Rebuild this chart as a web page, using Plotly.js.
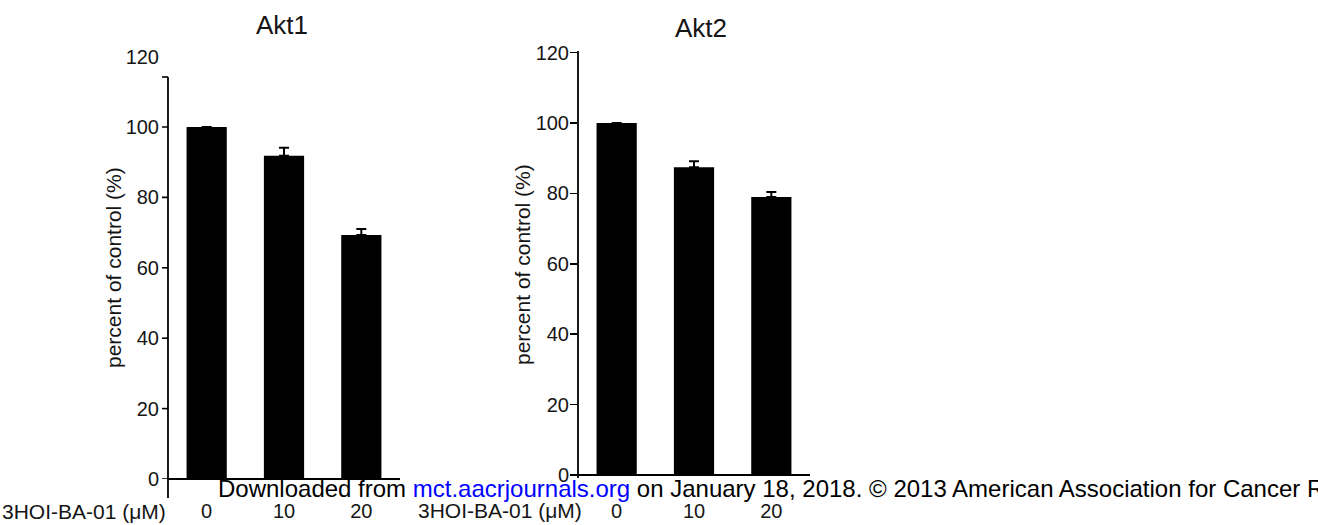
<!DOCTYPE html>
<html>
<head>
<meta charset="utf-8">
<script src="https://cdn.plot.ly/plotly-3.0.1.min.js"></script>
<style>
  html, body { margin: 0; padding: 0; background: #ffffff; }
  #chart { width: 1318px; height: 525px; }
</style>
</head>
<body>
<div id="chart"></div>
<script>
// ---- data ----
const categories = ['0', '10', '20'];
const akt1Values = [100, 91.8, 69.3];
const akt1Errors = [0, 2.3, 1.7];
const akt2Values = [100, 87.4, 79.0];
const akt2Errors = [0, 1.7, 1.4];
const yTicks = [0, 20, 40, 60, 80, 100, 120];
const panelTitles = ['Akt1', 'Akt2'];
const yAxisTitle = 'percent of control (%)';
const doseLabel = '3HOI-BA-01 (\u03bcM)';
const watermarkParts = ['Downloaded from ', 'mct.aacrjournals.org', ' on January 18, 2018. \u00a9 2013 American Association for Cancer Research.'];

// ---- layout helpers (pixel -> paper) ----
const W = 1318, H = 525;
const px = x => x / W;
const py = y => (H - y) / H;
const FONT = 'Liberation Sans, Arial, Helvetica, sans-serif';
const TXT = '#151515';

function barTrace(values, errors, xa, ya) {
  return {
    type: 'bar', x: categories, y: values, xaxis: xa, yaxis: ya,
    width: 0.52,
    marker: { color: '#000000', line: { width: 0 } },
    error_y: { type: 'data', symmetric: false, array: errors, arrayminus: errors.map(() => 0),
               color: '#000000', thickness: 2, width: 5 },
    showlegend: false, hoverinfo: 'x+y'
  };
}

const data = [
  barTrace(akt1Values, akt1Errors, 'x', 'y'),
  barTrace(akt2Values, akt2Errors, 'x2', 'y2')
];

function yAxis(domain, anchor, showTicks, standoff) {
  return {
    domain: domain, anchor: anchor, range: [0, 120], tickvals: yTicks,
    ticks: showTicks ? 'outside' : '', ticklen: 7, tickwidth: 1.6, tickcolor: '#000',
    showline: false, showgrid: false, zeroline: false, fixedrange: true,
    ticklabelstandoff: standoff,
    tickfont: { family: FONT, size: 20, color: TXT }
  };
}
function xAxis(domain, anchor, standoff) {
  return {
    domain: domain, anchor: anchor, type: 'category', range: [-0.5, 2.5],
    ticks: '', showline: false, showgrid: false, zeroline: false, fixedrange: true,
    ticklabelstandoff: standoff,
    tickfont: { family: FONT, size: 20, color: TXT }
  };
}

function line(x0, y0, x1, y1, w) {
  return { type: 'line', xref: 'paper', yref: 'paper', x0: px(x0), y0: py(y0), x1: px(x1), y1: py(y1),
           line: { color: '#000', width: w || 1.8 } };
}

// left panel: tick marks drawn along the shortened axis line (no mark at 120)
const leftTickShapes = yTicks.filter(v => v < 120).map(v => ({
  type: 'line', xref: 'x domain', yref: 'y', x0: -6 / 232, x1: 0, y0: v, y1: v,
  line: { color: '#000', width: 1.6 }
}));

const layout = {
  width: W, height: H,
  margin: { l: 0, r: 0, t: 0, b: 0 },
  paper_bgcolor: '#ffffff', plot_bgcolor: 'rgba(0,0,0,0)',
  xaxis: xAxis([px(168), px(400)], 'y', 18),
  yaxis: yAxis([py(479), py(56.6)], 'x', false, 8),
  xaxis2: xAxis([px(578), px(810)], 'y2', 22),
  yaxis2: yAxis([py(475), py(52.6)], 'x2', true, -3),
  shapes: [
    line(168, 77, 168, 498),
    line(162, 77, 168, 77, 1.6),
    line(168, 479, 400, 479),
    line(578, 51, 578, 478),
    line(578, 475, 810, 475)
  ].concat(leftTickShapes),
  annotations: [
    { text: panelTitles[0], xref: 'paper', yref: 'paper', x: px(282), y: py(25), showarrow: false,
      xanchor: 'center', yanchor: 'middle', font: { family: FONT, size: 26, color: TXT } },
    { text: panelTitles[1], xref: 'paper', yref: 'paper', x: px(701), y: py(28), showarrow: false,
      xanchor: 'center', yanchor: 'middle', font: { family: FONT, size: 26, color: TXT } },
    { text: yAxisTitle, xref: 'paper', yref: 'paper', x: px(113), y: py(268), showarrow: false, textangle: -90,
      xanchor: 'center', yanchor: 'middle', font: { family: FONT, size: 21, color: TXT } },
    { text: yAxisTitle, xref: 'paper', yref: 'paper', x: px(522), y: py(265), showarrow: false, textangle: -90,
      xanchor: 'center', yanchor: 'middle', font: { family: FONT, size: 21, color: TXT } },
    { text: doseLabel, xref: 'paper', yref: 'paper', x: px(168), y: py(511), showarrow: false,
      xanchor: 'right', yanchor: 'middle', font: { family: FONT, size: 21, color: TXT } },
    { text: doseLabel, xref: 'paper', yref: 'paper', x: px(584), y: py(510), showarrow: false,
      xanchor: 'right', yanchor: 'middle', font: { family: FONT, size: 21, color: TXT } },
    { text: watermarkParts[0] + '<span style="color:#0000ff">' + watermarkParts[1] + '</span>' + watermarkParts[2],
      xref: 'paper', yref: 'paper', x: px(216), y: py(488), showarrow: false,
      xanchor: 'left', yanchor: 'middle', font: { family: FONT, size: 24, color: '#000' } }
  ]
};

Plotly.newPlot('chart', data, layout, { displayModeBar: false, staticPlot: true });
</script>
</body>
</html>
